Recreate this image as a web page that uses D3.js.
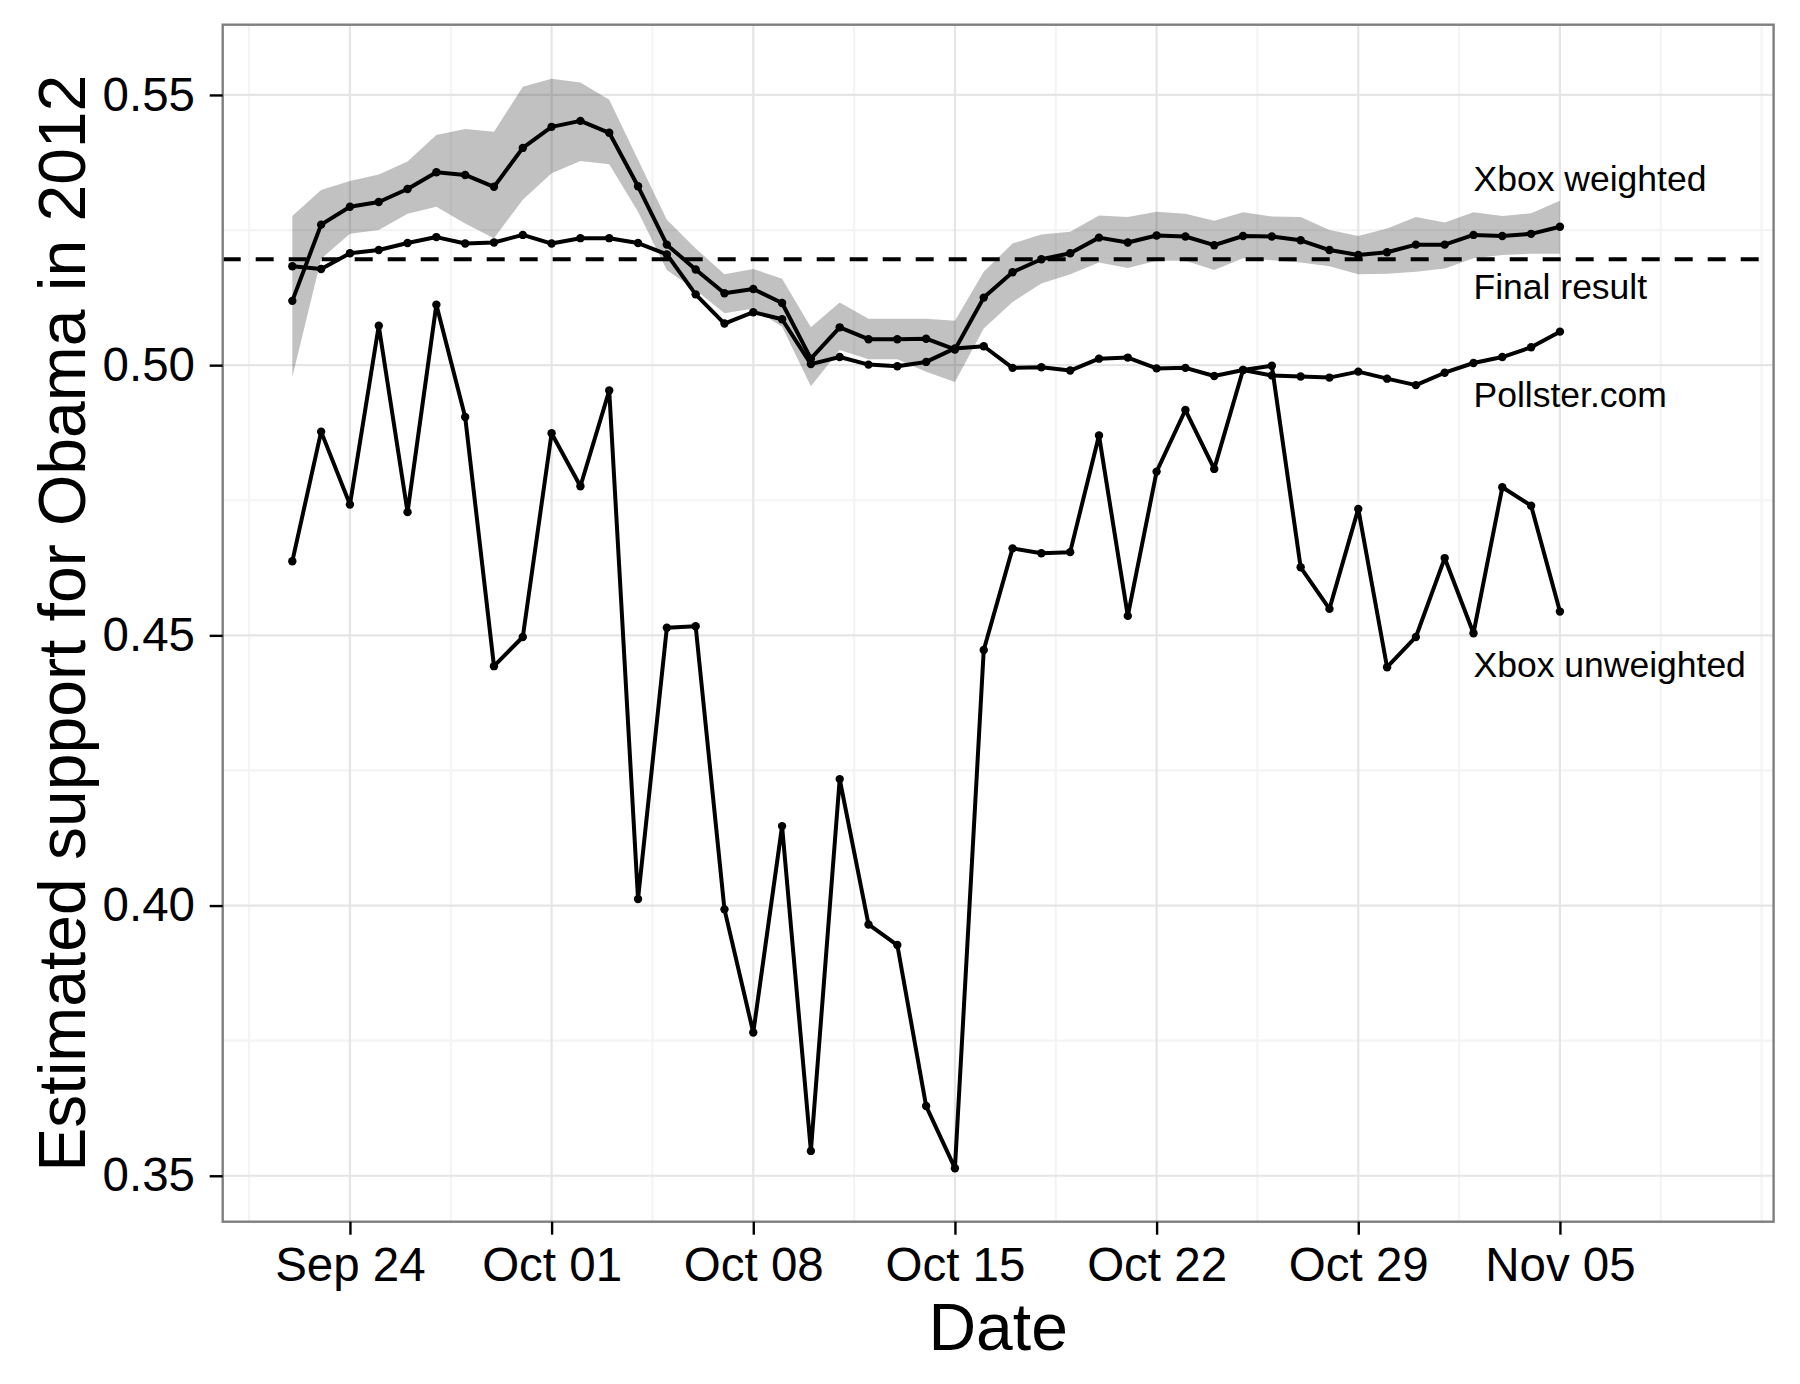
<!DOCTYPE html>
<html>
<head>
<meta charset="utf-8">
<script src="https://cdn.jsdelivr.net/npm/d3@7"></script>
<style>
    body { margin: 0; background: #fff; }
    svg { display: block; font-family: "Liberation Sans", Arial, sans-serif; }
</style>
</head>
<body>
<div id="chart"></div>
<script>
// daily estimates, Sep 22 - Nov 05 2012
var dates = [
    "2012-09-22", "2012-09-23", "2012-09-24", "2012-09-25", "2012-09-26", "2012-09-27", "2012-09-28",
    "2012-09-29", "2012-09-30", "2012-10-01", "2012-10-02", "2012-10-03", "2012-10-04", "2012-10-05",
    "2012-10-06", "2012-10-07", "2012-10-08", "2012-10-09", "2012-10-10", "2012-10-11", "2012-10-12",
    "2012-10-13", "2012-10-14", "2012-10-15", "2012-10-16", "2012-10-17", "2012-10-18", "2012-10-19",
    "2012-10-20", "2012-10-21", "2012-10-22", "2012-10-23", "2012-10-24", "2012-10-25", "2012-10-26",
    "2012-10-27", "2012-10-28", "2012-10-29", "2012-10-30", "2012-10-31", "2012-11-01", "2012-11-02",
    "2012-11-03", "2012-11-04", "2012-11-05"
];
var xboxWeighted = [
    0.5119, 0.5260, 0.5293, 0.5302, 0.5326, 0.5357, 0.5352, 0.5330, 0.5402, 0.5441, 0.5452, 0.5430,
    0.5331, 0.5223, 0.5177, 0.5133, 0.5141, 0.5115, 0.5012, 0.5070, 0.5048, 0.5048, 0.5049, 0.5029,
    0.5125, 0.5172, 0.5196, 0.5207, 0.5236, 0.5227, 0.5240, 0.5238, 0.5222, 0.5239, 0.5238, 0.5231,
    0.5213, 0.5204, 0.5209, 0.5223, 0.5223, 0.5241, 0.5239, 0.5243, 0.5256
];
var weightedLower = [
    0.4978, 0.5197, 0.5243, 0.5250, 0.5280, 0.5293, 0.5262, 0.5235, 0.5306, 0.5355, 0.5378, 0.5372,
    0.5284, 0.5176, 0.5139, 0.5096, 0.5105, 0.5071, 0.4961, 0.5028, 0.5011, 0.5011, 0.4988, 0.4969,
    0.5068, 0.5117, 0.5151, 0.5168, 0.5190, 0.5180, 0.5193, 0.5193, 0.5176, 0.5198, 0.5194, 0.5190,
    0.5183, 0.5168, 0.5169, 0.5173, 0.5179, 0.5198, 0.5204, 0.5206, 0.5206
];
var weightedUpper = [
    0.5276, 0.5324, 0.5341, 0.5353, 0.5377, 0.5426, 0.5437, 0.5432, 0.5515, 0.5530, 0.5523, 0.5491,
    0.5380, 0.5269, 0.5216, 0.5168, 0.5178, 0.5160, 0.5070, 0.5116, 0.5086, 0.5086, 0.5086, 0.5082,
    0.5173, 0.5225, 0.5242, 0.5247, 0.5277, 0.5274, 0.5284, 0.5280, 0.5267, 0.5283, 0.5275, 0.5274,
    0.5250, 0.5239, 0.5253, 0.5274, 0.5264, 0.5283, 0.5276, 0.5281, 0.5304
];
var pollster = [
    0.5183, 0.5178, 0.5207, 0.5213, 0.5226, 0.5237, 0.5225, 0.5227, 0.5241, 0.5225, 0.5235, 0.5235,
    0.5226, 0.5205, 0.5131, 0.5077, 0.5098, 0.5085, 0.5002, 0.5015, 0.5001, 0.4998, 0.5006, 0.5031,
    0.5035, 0.4995, 0.4996, 0.4990, 0.5012, 0.5014, 0.4994, 0.4995, 0.4980, 0.4991, 0.4981, 0.4979,
    0.4977, 0.4988, 0.4975, 0.4963, 0.4986, 0.5004, 0.5015, 0.5033, 0.5062
];
var xboxUnweighted = [
    0.4637, 0.4877, 0.4742, 0.5073, 0.4728, 0.5112, 0.4904, 0.4443, 0.4497, 0.4874, 0.4776, 0.4953,
    0.4012, 0.4514, 0.4517, 0.3993, 0.3765, 0.4147, 0.3546, 0.4234, 0.3965, 0.3927, 0.3629, 0.3514,
    0.4473, 0.4661, 0.4652, 0.4654, 0.4870, 0.4536, 0.4803, 0.4917, 0.4808, 0.4991, 0.4999, 0.4626,
    0.4549, 0.4734, 0.4441, 0.4497, 0.4643, 0.4504, 0.4774, 0.4740, 0.4544
];
var finalResult = 0.5196;

var labelNames = ["Xbox weighted", "Final result", "Pollster.com", "Xbox unweighted"];
var labelDates = ["2012-11-02", "2012-11-02", "2012-11-02", "2012-11-02"];
var labelValues = [0.5345, 0.5145, 0.4945, 0.4445];

var xTicks = ["2012-09-24", "2012-10-01", "2012-10-08", "2012-10-15", "2012-10-22", "2012-10-29", "2012-11-05"];
var xTickLabels = ["Sep 24", "Oct 01", "Oct 08", "Oct 15", "Oct 22", "Oct 29", "Nov 05"];
var xMinor = ["2012-09-20T12:00", "2012-09-27T12:00", "2012-10-04T12:00", "2012-10-11T12:00",
    "2012-10-18T12:00", "2012-10-25T12:00", "2012-11-01T12:00", "2012-11-08T12:00", "2012-11-12T00:00"];
var yTicks = [0.35, 0.40, 0.45, 0.50, 0.55];
var yTickLabels = ["0.35", "0.40", "0.45", "0.50", "0.55"];
var yMinor = [0.375, 0.425, 0.475, 0.525];
var xDomain = ["2012-09-19T14:00", "2012-11-12T10:00"];
var yDomain = [0.3415, 0.5630];

var w = 1800, h = 1384;
var margin = { top: 24.7, right: 26.4, bottom: 162.3, left: 222.7 };
var width = w - margin.left - margin.right;
var height = h - margin.top - margin.bottom;

var parseDay = d3.utcParse("%Y-%m-%d");
var parseTime = d3.utcParse("%Y-%m-%dT%H:%M");

var scale_x = d3.scaleUtc().domain(xDomain.map(parseTime)).range([0, width]);
var scale_y = d3.scaleLinear().domain(yDomain).range([height, 0]);

var rows = dates.map(function (d, i) {
    return {
        x: parseDay(d),
        w: xboxWeighted[i],
        lo: weightedLower[i],
        hi: weightedUpper[i],
        p: pollster[i],
        u: xboxUnweighted[i]
    };
});

var svg = d3.select("#chart").append("svg")
    .attr("width", w).attr("height", h)
    .attr("viewBox", "0 0 " + w + " " + h);

svg.append("rect").attr("width", w).attr("height", h).attr("fill", "#fff");

var g = svg.append("g").attr("transform", "translate(" + margin.left + "," + margin.top + ")");

// grid
var grid = g.append("g").attr("class", "grid");
grid.selectAll("line.ymin").data(yMinor).enter().append("line")
    .attr("x1", 0).attr("x2", width)
    .attr("y1", function (d) { return scale_y(d); })
    .attr("y2", function (d) { return scale_y(d); })
    .attr("stroke", "#f4f4f4").attr("stroke-width", 2.2);
grid.selectAll("line.xmin").data(xMinor).enter().append("line")
    .attr("y1", 0).attr("y2", height)
    .attr("x1", function (d) { return scale_x(parseTime(d)); })
    .attr("x2", function (d) { return scale_x(parseTime(d)); })
    .attr("stroke", "#f4f4f4").attr("stroke-width", 2.2);
grid.selectAll("line.ymaj").data(yTicks).enter().append("line")
    .attr("x1", 0).attr("x2", width)
    .attr("y1", function (d) { return scale_y(d); })
    .attr("y2", function (d) { return scale_y(d); })
    .attr("stroke", "#e5e5e5").attr("stroke-width", 2.2);
grid.selectAll("line.xmaj").data(xTicks).enter().append("line")
    .attr("y1", 0).attr("y2", height)
    .attr("x1", function (d) { return scale_x(parseDay(d)); })
    .attr("x2", function (d) { return scale_x(parseDay(d)); })
    .attr("stroke", "#e5e5e5").attr("stroke-width", 2.2);

// ribbon for weighted estimate
var area = d3.area()
    .x(function (d) { return scale_x(d.x); })
    .y0(function (d) { return scale_y(d.lo); })
    .y1(function (d) { return scale_y(d.hi); });
g.append("path").attr("d", area(rows))
    .attr("fill", "#333333").attr("fill-opacity", 0.3);

// final result
g.append("line")
    .attr("x1", 0).attr("x2", width)
    .attr("y1", scale_y(finalResult)).attr("y2", scale_y(finalResult))
    .attr("stroke", "#000").attr("stroke-width", 4)
    .attr("stroke-dasharray", "18,15");

function drawSeries(key) {
    var line = d3.line()
        .x(function (d) { return scale_x(d.x); })
        .y(function (d) { return scale_y(d[key]); });
    var s = g.append("g").attr("class", "series " + key);
    s.append("path").attr("d", line(rows))
        .attr("fill", "none").attr("stroke", "#000")
        .attr("stroke-width", 4).attr("stroke-linejoin", "round");
    s.selectAll("circle").data(rows).enter().append("circle")
        .attr("cx", function (d) { return scale_x(d.x); })
        .attr("cy", function (d) { return scale_y(d[key]); })
        .attr("r", 4.2).attr("fill", "#000");
}
drawSeries("u");
drawSeries("p");
drawSeries("w");

// labels
g.selectAll("text.lab").data(labelNames).enter().append("text")
    .attr("class", "lab")
    .attr("x", function (d, i) { return scale_x(parseDay(labelDates[i])); })
    .attr("y", function (d, i) { return scale_y(labelValues[i]); })
    .attr("dy", "0.35em")
    .attr("font-size", 35.5)
    .attr("fill", "#000")
    .text(function (d) { return d; });

// panel border
g.append("rect").attr("width", width).attr("height", height)
    .attr("fill", "none").attr("stroke", "#7f7f7f").attr("stroke-width", 2.4);

// axes
var yAxis = d3.axisLeft(scale_y).tickValues(yTicks).tickSize(13).tickPadding(14.7)
    .tickFormat(function (d, i) { return yTickLabels[i]; });
var yBar = g.append("g").attr("class", "axis y").call(yAxis);

var xAxis = d3.axisBottom(scale_x).tickValues(xTicks.map(parseDay)).tickSize(13).tickPadding(12.3)
    .tickFormat(function (d, i) { return xTickLabels[i]; });
var xBar = g.append("g").attr("class", "axis x")
    .attr("transform", "translate(0," + height + ")").call(xAxis);

[yBar, xBar].forEach(function (a) {
    a.select(".domain").remove();
    a.selectAll(".tick line").attr("stroke", "#000").attr("stroke-width", 2.4);
    a.selectAll(".tick text").attr("fill", "#000")
        .attr("font-size", 47.5)
        .attr("font-family", "'Liberation Sans', Arial, sans-serif");
});

// axis titles
svg.append("text")
    .attr("x", margin.left + width / 2).attr("y", 1350)
    .attr("text-anchor", "middle").attr("font-size", 66).attr("fill", "#000")
    .text("Date");
svg.append("text")
    .attr("transform", "translate(85," + (margin.top + height / 2) + ") rotate(-90)")
    .attr("text-anchor", "middle").attr("font-size", 66).attr("fill", "#000")
    .text("Estimated support for Obama in 2012");
</script>
</body>
</html>
